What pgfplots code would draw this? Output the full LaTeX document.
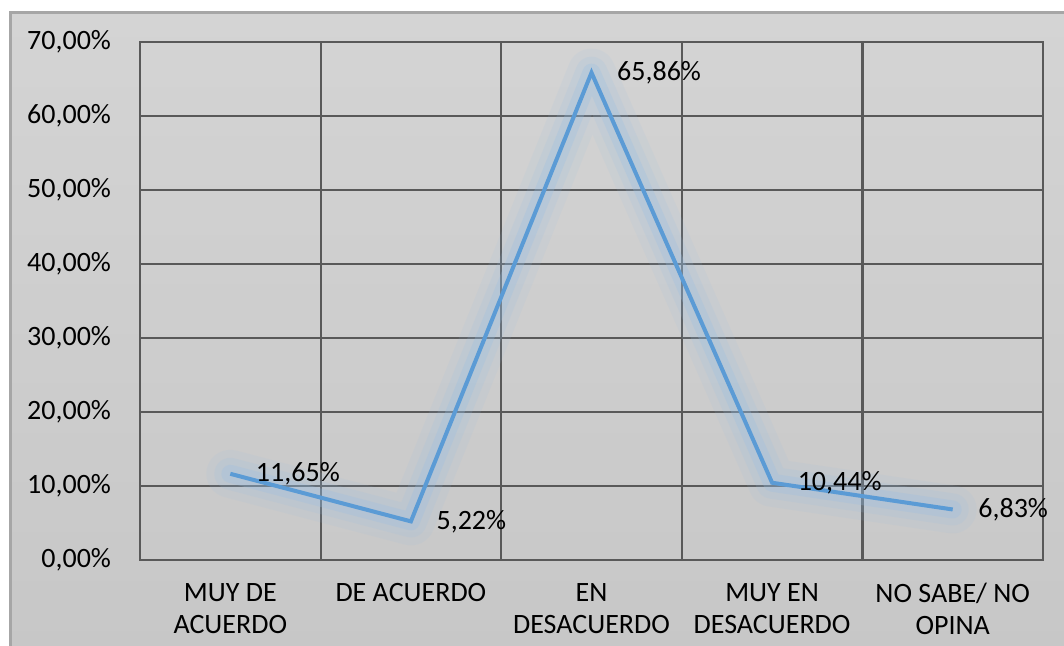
\documentclass[border=0pt]{standalone}
\usepackage{fontspec}
\setmainfont{Carlito}
\usepackage{pgfplots}
\pgfplotsset{compat=1.18}
\definecolor{bgtop}{RGB}{212,212,212}
\definecolor{bgbot}{RGB}{199,199,199}
\definecolor{gridc}{RGB}{89,89,89}
\definecolor{framec}{RGB}{166,166,166}
\definecolor{lineblue}{RGB}{91,155,213}
\definecolor{glowc}{RGB}{150,190,228}
\begin{document}
\begin{tikzpicture}
\useasboundingbox (0pt,0pt) rectangle (532pt,322.5pt);
\shade[top color=bgtop,bottom color=bgbot] (5pt,-5pt) rectangle (545pt,316.5pt);
\draw[framec, line width=1.5pt] (5pt,-5pt) -- (5pt,316.5pt) -- (545pt,316.5pt);
\begin{axis}[
  at={(70pt,42.5pt)}, anchor=south west,
  scale only axis, width=451.5pt, height=259pt,
  xmin=-0.5, xmax=4.5, ymin=0, ymax=70,
  xtick={0,1,2,3,4},
  xticklabels={{MUY DE\\ACUERDO},{DE ACUERDO},{EN\\DESACUERDO},{MUY EN\\DESACUERDO},{NO SABE/ NO\\OPINA}},
  minor xtick={-0.5,0.5,1.5,2.5,3.5,4.5},
  ytick={0,10,20,30,40,50,60,70},
  yticklabels={{0,00\%},{10,00\%},{20,00\%},{30,00\%},{40,00\%},{50,00\%},{60,00\%},{70,00\%}},
  xminorgrids, ymajorgrids,
  major tick length=0pt, minor tick length=0pt,
  grid style={gridc, line width=1.1pt},
  minor grid style={gridc, line width=1.1pt},
  axis line style={gridc, line width=1.1pt},
  xticklabel style={align=center, anchor=north, font=\fontsize{14}{16}\selectfont, yshift=-8pt},
  yticklabel style={anchor=east, font=\fontsize{14}{16}\selectfont, xshift=-11pt},
  clip=false,
]
\addplot[glowc, opacity=0.10, line width=24pt, line join=round, line cap=round, forget plot] coordinates {(0,11.65) (1,5.22) (2,65.86) (3,10.44) (4,6.83)};
\addplot[glowc, opacity=0.15, line width=16pt, line join=round, line cap=round, forget plot] coordinates {(0,11.65) (1,5.22) (2,65.86) (3,10.44) (4,6.83)};
\addplot[glowc, opacity=0.25, line width=9pt, line join=round, line cap=round, forget plot] coordinates {(0,11.65) (1,5.22) (2,65.86) (3,10.44) (4,6.83)};
\addplot[lineblue, line width=2pt, mark=none,
  nodes near coords, point meta=explicit symbolic,
  nodes near coords style={anchor=west, xshift=8.5pt, text=black, font=\fontsize{14}{16}\selectfont}]
  coordinates {(0,11.65)[11,65\%] (1,5.22)[5,22\%] (2,65.86)[65,86\%] (3,10.44)[10,44\%] (4,6.83)[6,83\%]};
\end{axis}
\end{tikzpicture}
\end{document}
